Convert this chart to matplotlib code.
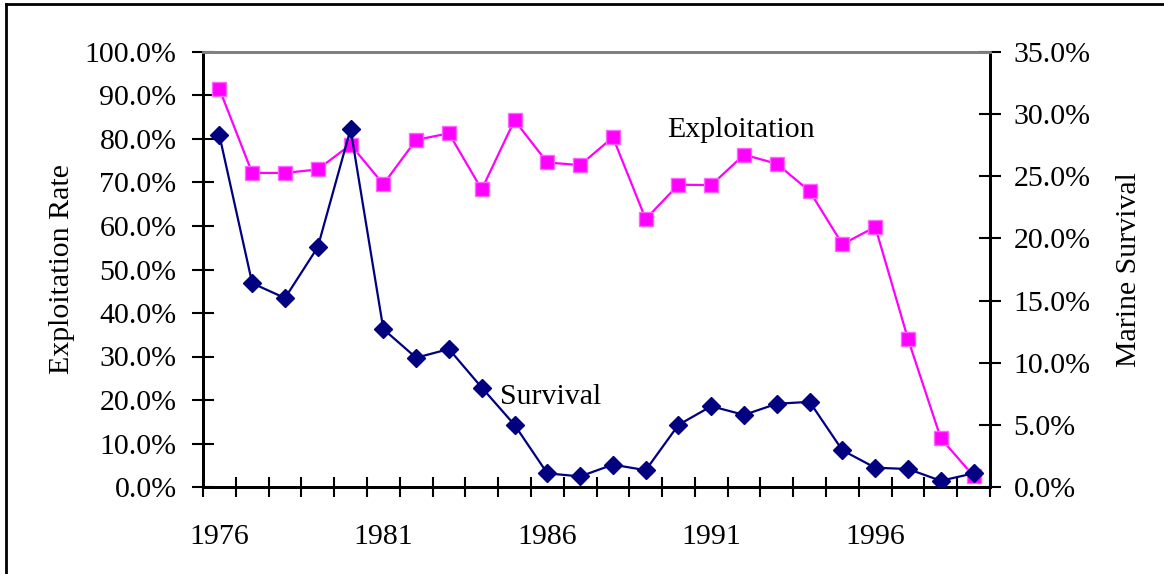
import matplotlib
matplotlib.use("Agg")
import matplotlib.pyplot as plt
from matplotlib.ticker import FuncFormatter, FixedLocator
from matplotlib.lines import Line2D

plt.rcParams['font.family'] = ['Liberation Serif', 'DejaVu Serif']

years = list(range(1976, 2000))
exploitation = [91.5, 72.2, 72.2, 73.0, 78.7, 69.6, 79.8, 81.3, 68.4, 84.3, 74.6, 74.0,
                80.4, 61.6, 69.5, 69.4, 76.4, 74.3, 68.0, 55.8, 59.8, 34.0, 11.2, 2.5]
survival = [28.3, 16.4, 15.2, 19.3, 28.8, 12.7, 10.4, 11.1, 8.0, 5.0, 1.1, 0.85,
            1.8, 1.35, 5.0, 6.5, 5.8, 6.7, 6.85, 2.95, 1.55, 1.45, 0.5, 1.1]
x_labels = [1976, 1981, 1986, 1991, 1996]
left_ticks = [0, 10, 20, 30, 40, 50, 60, 70, 80, 90, 100]
right_ticks = [0, 5, 10, 15, 20, 25, 30, 35]

W, H = 1164, 574
fig = plt.figure(figsize=(W / 100, H / 100), dpi=100)
ax = fig.add_axes([203 / W, 1 - 487 / H, (990 - 203) / W, (487 - 52) / H])
ax2 = ax.twinx()

ax.plot(years, exploitation, color='#FF00FF', lw=1.6, marker='s', ms=10,
        mfc='#FF00FF', mec='#FF66FF', mew=1.0, zorder=3)
ax2.plot(years, survival, color='#000080', lw=1.6, marker='D', ms=9.5,
         mfc='#000080', mec='#000080', zorder=3)

ax.set_xlim(1975.5, 1999.5)
ax.set_ylim(0, 100)
ax2.set_ylim(0, 35)

pct = FuncFormatter(lambda v, p: f"{v:.1f}%")
ax.yaxis.set_major_locator(FixedLocator(left_ticks))
ax.yaxis.set_major_formatter(pct)
ax2.yaxis.set_major_locator(FixedLocator(right_ticks))
ax2.yaxis.set_major_formatter(pct)

ax.xaxis.set_major_locator(FixedLocator([1975.5 + k for k in range(25)]))
ax.xaxis.set_major_formatter(FuncFormatter(lambda v, p: ""))
ax.xaxis.set_minor_locator(FixedLocator(x_labels))
ax.xaxis.set_minor_formatter(FuncFormatter(lambda v, p: f"{int(round(v))}"))

fs = 21.5
ax.tick_params(axis='y', direction='inout', length=16, width=1.5, labelsize=fs, pad=11)
ax2.tick_params(axis='y', direction='inout', length=16, width=1.5, labelsize=fs, pad=9)
ax.tick_params(axis='x', which='major', direction='inout', length=15, width=1.5)
ax.tick_params(axis='x', which='minor', length=0, labelsize=fs, pad=27)

for a in (ax, ax2):
    a.spines['left'].set_linewidth(2)
    a.spines['right'].set_linewidth(2)
    a.spines['bottom'].set_linewidth(2)
    a.spines['top'].set_color('#808080')
    a.spines['top'].set_linewidth(2)

ax.set_ylabel("Exploitation Rate", fontsize=fs, labelpad=7)
ax2.set_ylabel("Marine Survival", fontsize=fs, labelpad=18)

ax.text(1991.9, 82.0, "Exploitation", fontsize=fs, ha='center', va='center')
ax.text(1986.1, 20.6, "Survival", fontsize=fs, ha='center', va='center')

# outer border (left and top only visible)
fig.add_artist(Line2D([6 / W, 6 / W], [0, 1 - 4 / H], transform=fig.transFigure,
                      color='black', lw=2))
fig.add_artist(Line2D([6 / W, 1], [1 - 4 / H, 1 - 4 / H], transform=fig.transFigure,
                      color='black', lw=2))

fig.savefig("out.png", dpi=100)
